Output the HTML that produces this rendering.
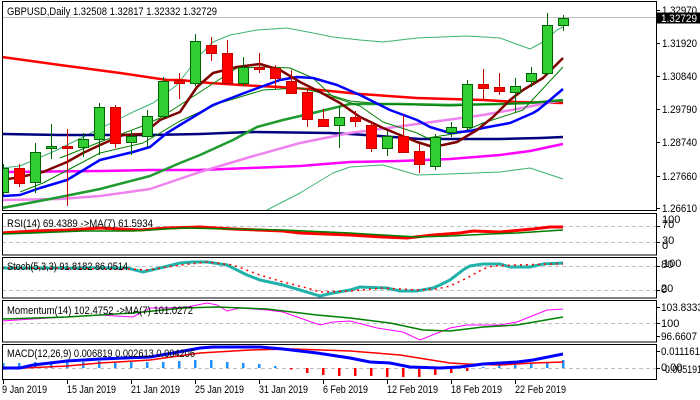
<!DOCTYPE html>
<html><head><meta charset="utf-8"><style>
html,body{margin:0;padding:0;background:#fff;}
svg{display:block;}
text{font-family:"Liberation Sans",sans-serif;font-size:11px;fill:#000;}
</style></head><body>
<svg width="700" height="400" viewBox="0 0 700 400" xmlns="http://www.w3.org/2000/svg">
<defs>
<clipPath id="cm"><rect x="3" y="2" width="653" height="208"/></clipPath>
<clipPath id="cr"><rect x="3" y="214" width="653" height="41"/></clipPath>
<clipPath id="cs"><rect x="3" y="258" width="653" height="40"/></clipPath>
<clipPath id="cmo"><rect x="3" y="301" width="653" height="41"/></clipPath>
<clipPath id="cma"><rect x="3" y="345" width="653" height="34"/></clipPath>
</defs>
<rect width="700" height="400" fill="#fff"/>

<!-- MAIN PANEL -->
<g clip-path="url(#cm)">
<line x1="2" y1="17.5" x2="657" y2="17.5" stroke="#c0c0c0" stroke-width="1"/>
<!-- indicator lines -->
<g fill="none" stroke-linejoin="round">
<polyline stroke="#3cb371" stroke-width="1" points="2,168 20,166 57,150 97,130 133,112 153,103 177,85 200,55 213,42 230,35 257,30 287,28 313,33 333,37 360,40 383,42 417,38 467,36 500,38 530,49 543,42 557,30 563,27"/>
<polyline stroke="#3cb371" stroke-width="1" points="260,214 267,210 300,193 333,173 350,167 383,165 417,175 450,174 500,172 530,168 563,179"/>
<polyline stroke="#ff0000" stroke-width="2.5" points="2,57 60,65 120,73 167,80 180,80 210,83 257,86 280,87 320,90 360,94 417,98 483,100 517,102 563,103"/>
<polyline stroke="#000080" stroke-width="2.5" points="2,134 60,135 150,135 200,134 250,132 330,133 350,134 380,136 420,139 500,139 540,138 563,137"/>
<polyline stroke="#ff00ff" stroke-width="2.5" points="2,172 100,171 150,170 200,170 250,168 300,166 350,162 400,161 450,159 500,155 530,151 563,144"/>
<polyline stroke="#ee82ee" stroke-width="2.5" points="2,200 60,199 100,196 150,189 200,172 250,157 300,143 350,133 417,124 483,115 517,109 563,100"/>
<polyline stroke="#1e9a2e" stroke-width="2.5" points="2,208 50,199 100,189 150,176 180,163 200,155 233,140 257,127 283,120 313,113 350,104 400,104 450,105 500,104 530,103 563,100"/>
<polyline stroke="#008000" stroke-width="1" points="20,192 43,183 83,162 100,153 143,143 160,133 180,121 220,103 263,90 300,88 330,95 350,101 383,104 450,106 500,104 563,101"/>
<polyline stroke="#008000" stroke-width="1" points="60,158 100,142 140,127 160,118 180,105 200,92 237,68 267,67 290,68 313,78 333,97 360,106 383,122 417,133 427,138 460,133 483,123 517,112 523,110 563,67"/>
<polyline stroke="#0000ff" stroke-width="2.5" points="2,196 20,195 40,188 67,180 100,160 133,152 150,147 167,133 180,125 213,105 247,92 280,80 297,77 313,78 337,85 360,95 390,110 417,120 430,127 450,133 470,131 483,128 510,123 533,113 538,110 550,100 563,89"/>
<polyline stroke="#800000" stroke-width="2.5" points="2,180 20,177 43,172 67,162 83,153 100,145 123,135 143,134 160,120 180,112 197,87 213,73 237,67 260,64 280,70 300,82 320,92 340,103 360,117 383,128 417,142 430,146 443,145 457,142 477,130 493,117 510,100 523,90 543,78 563,58"/>
</g>
<!-- candles -->
<g stroke-width="1">
<g stroke="#006400" fill="#32cd32">
<line x1="3.5" y1="164" x2="3.5" y2="195"/><rect x="-1.5" y="168.5" width="10" height="24"/>
<line x1="35.5" y1="143" x2="35.5" y2="193"/><rect x="30.5" y="152.5" width="10" height="30"/>
<line x1="51.5" y1="124" x2="51.5" y2="159"/><rect x="46.5" y="146.5" width="10" height="2"/>
<line x1="83.5" y1="133" x2="83.5" y2="157"/><rect x="78.5" y="139.5" width="10" height="8"/>
<line x1="99.5" y1="103" x2="99.5" y2="155"/><rect x="94.5" y="107.5" width="10" height="32"/>
<line x1="131.5" y1="131" x2="131.5" y2="155"/><rect x="126.5" y="136.5" width="10" height="6"/>
<line x1="147.5" y1="110" x2="147.5" y2="147"/><rect x="142.5" y="116.5" width="10" height="20"/>
<line x1="163.5" y1="77" x2="163.5" y2="119"/><rect x="158.5" y="81.5" width="10" height="35"/>
<line x1="195.5" y1="34" x2="195.5" y2="86"/><rect x="190.5" y="41.5" width="10" height="42"/>
<line x1="243.5" y1="57" x2="243.5" y2="86"/><rect x="238.5" y="67.5" width="10" height="16"/>
<line x1="339.5" y1="106" x2="339.5" y2="148"/><rect x="334.5" y="117.5" width="10" height="8"/>
<line x1="387.5" y1="131" x2="387.5" y2="156"/><rect x="382.5" y="136.5" width="10" height="12"/>
<line x1="435.5" y1="134" x2="435.5" y2="170"/><rect x="430.5" y="137.5" width="10" height="29"/>
<line x1="451.5" y1="122" x2="451.5" y2="137"/><rect x="446.5" y="127.5" width="10" height="5"/>
<line x1="467.5" y1="80" x2="467.5" y2="130"/><rect x="462.5" y="84.5" width="10" height="43"/>
<line x1="515.5" y1="78" x2="515.5" y2="112"/><rect x="510.5" y="86.5" width="10" height="6"/>
<line x1="531.5" y1="67" x2="531.5" y2="87"/><rect x="526.5" y="73.5" width="10" height="8"/>
<line x1="547.5" y1="13" x2="547.5" y2="75"/><rect x="542.5" y="25.5" width="10" height="48"/>
<line x1="563.5" y1="15" x2="563.5" y2="31"/><rect x="558.5" y="18.5" width="10" height="7"/>
</g>
<g stroke="#c80000" fill="#ff0000">
<line x1="19.5" y1="164" x2="19.5" y2="187"/><rect x="14.5" y="168.5" width="10" height="15"/>
<line x1="67.5" y1="129" x2="67.5" y2="206"/><rect x="62.5" y="146.5" width="10" height="2"/>
<line x1="115.5" y1="105" x2="115.5" y2="148"/><rect x="110.5" y="107.5" width="10" height="36"/>
<line x1="179.5" y1="73" x2="179.5" y2="99"/><rect x="174.5" y="80.5" width="10" height="3"/>
<line x1="211.5" y1="37" x2="211.5" y2="61"/><rect x="206.5" y="45.5" width="10" height="8"/>
<line x1="227.5" y1="40" x2="227.5" y2="84"/><rect x="222.5" y="53.5" width="10" height="30"/>
<line x1="259.5" y1="53" x2="259.5" y2="73"/><rect x="254.5" y="67.5" width="10" height="2"/>
<line x1="275.5" y1="65" x2="275.5" y2="89"/><rect x="270.5" y="68.5" width="10" height="10"/>
<line x1="291.5" y1="70" x2="291.5" y2="94"/><rect x="286.5" y="81.5" width="10" height="12"/>
<line x1="307.5" y1="88" x2="307.5" y2="127"/><rect x="302.5" y="92.5" width="10" height="27"/>
<line x1="323.5" y1="109" x2="323.5" y2="127"/><rect x="318.5" y="119.5" width="10" height="7"/>
<line x1="355.5" y1="111" x2="355.5" y2="127"/><rect x="350.5" y="117.5" width="10" height="4"/>
<line x1="371.5" y1="122" x2="371.5" y2="152"/><rect x="366.5" y="125.5" width="10" height="23"/>
<line x1="403.5" y1="115" x2="403.5" y2="152"/><rect x="398.5" y="136.5" width="10" height="16"/>
<line x1="419.5" y1="144" x2="419.5" y2="173"/><rect x="414.5" y="151.5" width="10" height="13"/>
<line x1="483.5" y1="69" x2="483.5" y2="100"/><rect x="478.5" y="84.5" width="10" height="4"/>
<line x1="499.5" y1="73" x2="499.5" y2="95"/><rect x="494.5" y="87.5" width="10" height="4"/>
</g>
</g>
</g>
<text x="7" y="15" textLength="210" lengthAdjust="spacingAndGlyphs">GBPUSD,Daily  1.32508 1.32817 1.32332 1.32729</text>

<!-- RSI -->
<g clip-path="url(#cr)" fill="none">
<line x1="2" y1="226.5" x2="657" y2="226.5" stroke="#c0c0c0" stroke-dasharray="4,3"/>
<line x1="2" y1="242.5" x2="657" y2="242.5" stroke="#c0c0c0" stroke-dasharray="4,3"/>
<polyline stroke="#ff0000" stroke-width="3" points="2,233 33,231 67,230 100,228 140,230 167,228 200,227 233,229 283,231 300,233 350,235 383,237 407,238 433,235 460,233 473,231 500,232 533,229 550,227 563,227"/>
<polyline stroke="#008000" stroke-width="1.5" points="2,234 33,233 83,231 133,231 183,228 233,229 283,230 350,233 383,235 417,237 450,236 490,234 517,233 563,230"/>
</g>
<text x="7" y="227" textLength="146" lengthAdjust="spacingAndGlyphs">RSI(14) 69.4389  -&gt;MA(7) 61.5934</text>

<!-- Stoch -->
<g clip-path="url(#cs)" fill="none">
<line x1="2" y1="266.5" x2="657" y2="266.5" stroke="#c0c0c0" stroke-dasharray="4,3"/>
<line x1="2" y1="290.5" x2="657" y2="290.5" stroke="#c0c0c0" stroke-dasharray="4,3"/>
<polyline stroke="#20b2aa" stroke-width="3" points="2,268 127,268 143,272 160,268 180,263 193,262 207,262 227,265 247,275 260,280 283,285 300,290 320,296 333,293 350,290 360,287 387,288 400,291 417,291 433,288 440,285 450,280 463,270 470,266 483,264 500,264 510,267 530,267 543,264 563,263"/>
<polyline stroke="#ff0000" stroke-width="1.5" stroke-dasharray="2,4" points="2,268 127,269 150,270 173,266 207,262 233,265 260,275 283,282 307,288 320,292 350,291 383,288 417,290 437,289 450,286 467,278 483,269 493,266 517,265 550,264 563,264"/>
</g>
<text x="7" y="270" textLength="121" lengthAdjust="spacingAndGlyphs">Stoch(5,3,3) 91.8182 86.0514</text>

<!-- Momentum -->
<g clip-path="url(#cmo)" fill="none">
<line x1="2" y1="323.5" x2="657" y2="323.5" stroke="#c0c0c0" stroke-dasharray="4,3"/>
<polyline stroke="#ff00ff" stroke-width="1" points="2,321 33,319 100,315 133,317 150,308 167,308 187,307 207,303 217,305 227,311 240,308 267,310 283,312 300,318 320,325 333,322 350,321 377,328 403,332 420,340 450,328 467,325 500,325 517,322 547,310 563,309"/>
<polyline stroke="#008000" stroke-width="1.5" points="2,319 67,317 133,313 183,308 217,307 267,309 317,315 350,318 390,323 423,330 450,331 483,327 517,325 563,317"/>
</g>
<text x="7" y="314" textLength="186" lengthAdjust="spacingAndGlyphs">Momentum(14) 102.4752  -&gt;MA(7) 101.0272</text>

<!-- MACD -->
<g clip-path="url(#cma)">
<line x1="2" y1="368.5" x2="657" y2="368.5" stroke="#c0c0c0" stroke-dasharray="4,3"/>
<g fill="#1e90ff">
<rect x="2" y="363" width="2.5" height="5"/><rect x="18" y="363" width="2.5" height="5"/><rect x="34" y="362" width="2.5" height="6"/><rect x="50" y="363" width="2.5" height="5"/><rect x="66" y="362" width="2.5" height="6"/><rect x="82" y="362" width="2.5" height="6"/><rect x="98" y="361" width="2.5" height="7"/><rect x="114" y="362" width="2.5" height="6"/><rect x="130" y="362" width="2.5" height="6"/><rect x="146" y="362" width="2.5" height="6"/><rect x="162" y="362" width="2.5" height="6"/><rect x="178" y="361" width="2.5" height="7"/><rect x="194" y="360" width="2.5" height="8"/><rect x="210" y="360" width="2.5" height="8"/><rect x="226" y="362" width="2.5" height="6"/><rect x="242" y="363" width="2.5" height="5"/><rect x="258" y="364" width="2.5" height="4"/><rect x="274" y="366" width="2.5" height="2"/>
<rect x="482" y="367" width="2.5" height="1"/><rect x="498" y="365" width="2.5" height="3"/><rect x="514" y="365" width="2.5" height="3"/><rect x="530" y="363" width="2.5" height="5"/><rect x="546" y="362" width="2.5" height="6"/><rect x="562" y="360" width="2.5" height="8"/>
</g>
<g fill="#ff0000">
<rect x="290" y="368" width="2.5" height="1.5"/><rect x="306" y="368" width="2.5" height="5"/><rect x="322" y="368" width="2.5" height="7"/><rect x="338" y="368" width="2.5" height="8"/><rect x="354" y="368" width="2.5" height="8"/><rect x="370" y="368" width="2.5" height="8"/><rect x="386" y="368" width="2.5" height="9"/><rect x="402" y="368" width="2.5" height="9"/><rect x="418" y="368" width="2.5" height="9"/><rect x="434" y="368" width="2.5" height="7"/><rect x="450" y="368" width="2.5" height="5"/><rect x="466" y="368" width="2.5" height="3"/>
</g>
<polyline fill="none" stroke="#ff0000" stroke-width="1.5" points="2,369 67,366 100,363 150,360 200,353 250,350 293,349 350,351 400,355 450,363 467,364 500,365 533,363 563,362"/>
<polyline fill="none" stroke="#0000ff" stroke-width="3" points="2,368 20,368 33,365 67,361 100,359 150,357 173,353 200,348 213,347 260,347 283,349 317,353 350,358 370,362 390,363 410,367 440,368 460,367 483,364 517,362 533,360 563,354"/>
</g>
<text x="7" y="357" textLength="188" lengthAdjust="spacingAndGlyphs">MACD(12,26,9) 0.006819 0.002613 0.004206</text>

<!-- panel borders -->
<g fill="none" stroke="#000" stroke-width="1">
<rect x="2.5" y="1.5" width="654" height="209"/>
<rect x="2.5" y="213.5" width="654" height="41.5"/>
<rect x="2.5" y="257.5" width="654" height="40.5"/>
<rect x="2.5" y="300.5" width="654" height="41.5"/>
<rect x="2.5" y="344.5" width="654" height="35"/>
</g>

<!-- right axis ticks -->
<g stroke="#000" stroke-width="1">
<line x1="657" y1="10.5" x2="660" y2="10.5"/><line x1="657" y1="43.5" x2="660" y2="43.5"/><line x1="657" y1="76.5" x2="660" y2="76.5"/><line x1="657" y1="109.5" x2="660" y2="109.5"/><line x1="657" y1="142.5" x2="660" y2="142.5"/><line x1="657" y1="176.5" x2="660" y2="176.5"/><line x1="657" y1="208.5" x2="660" y2="208.5"/>
<line x1="657" y1="226.5" x2="660" y2="226.5"/><line x1="657" y1="242.5" x2="660" y2="242.5"/>
<line x1="657" y1="266.5" x2="660" y2="266.5"/><line x1="657" y1="290.5" x2="660" y2="290.5"/>
<line x1="657" y1="307.5" x2="660" y2="307.5"/><line x1="657" y1="323.5" x2="660" y2="323.5"/><line x1="657" y1="336.5" x2="660" y2="336.5"/>
<line x1="657" y1="351.5" x2="660" y2="351.5"/><line x1="657" y1="368.5" x2="660" y2="368.5"/>
</g>

<!-- right axis labels -->
<text x="662" y="14" textLength="35" lengthAdjust="spacingAndGlyphs">1.32970</text>
<text x="662" y="47" textLength="35" lengthAdjust="spacingAndGlyphs">1.31920</text>
<text x="662" y="80" textLength="35" lengthAdjust="spacingAndGlyphs">1.30840</text>
<text x="662" y="113" textLength="35" lengthAdjust="spacingAndGlyphs">1.29790</text>
<text x="662" y="146" textLength="35" lengthAdjust="spacingAndGlyphs">1.28740</text>
<text x="662" y="180" textLength="35" lengthAdjust="spacingAndGlyphs">1.27660</text>
<text x="662" y="212" textLength="35" lengthAdjust="spacingAndGlyphs">1.26610</text>
<rect x="657" y="12.5" width="43" height="11" fill="#000"/>
<text x="661" y="22" fill="#fff" style="fill:#fff" textLength="36" lengthAdjust="spacingAndGlyphs">1.32729</text>

<text x="662" y="223">100</text>
<text x="662" y="228">70</text>
<text x="662" y="244">30</text>
<text x="662" y="249">0</text>
<text x="663" y="267">100</text>
<text x="661" y="268">80</text>
<text x="661" y="292">20</text>
<text x="661" y="293">0</text>
<text x="661" y="311" textLength="42" lengthAdjust="spacingAndGlyphs">103.8333</text>
<text x="661" y="327">100</text>
<text x="661" y="340" textLength="36" lengthAdjust="spacingAndGlyphs">96.6607</text>
<text x="661" y="355" textLength="39" lengthAdjust="spacingAndGlyphs">0.011161</text>
<text x="661" y="371">0.00</text>
<text x="662" y="373" textLength="40" lengthAdjust="spacingAndGlyphs">-0.005191</text>

<!-- x axis -->
<g stroke="#000" stroke-width="1">
<line x1="3.5" y1="380" x2="3.5" y2="384"/><line x1="67.5" y1="380" x2="67.5" y2="384"/><line x1="131.5" y1="380" x2="131.5" y2="384"/><line x1="195.5" y1="380" x2="195.5" y2="384"/><line x1="259.5" y1="380" x2="259.5" y2="384"/><line x1="323.5" y1="380" x2="323.5" y2="384"/><line x1="387.5" y1="380" x2="387.5" y2="384"/><line x1="451.5" y1="380" x2="451.5" y2="384"/><line x1="515.5" y1="380" x2="515.5" y2="384"/>
</g>
<text x="2" y="393" textLength="45" lengthAdjust="spacingAndGlyphs">9 Jan 2019</text>
<text x="67" y="393" textLength="49" lengthAdjust="spacingAndGlyphs">15 Jan 2019</text>
<text x="131" y="393" textLength="49" lengthAdjust="spacingAndGlyphs">21 Jan 2019</text>
<text x="195" y="393" textLength="49" lengthAdjust="spacingAndGlyphs">25 Jan 2019</text>
<text x="259" y="393" textLength="49" lengthAdjust="spacingAndGlyphs">31 Jan 2019</text>
<text x="323" y="393" textLength="45" lengthAdjust="spacingAndGlyphs">6 Feb 2019</text>
<text x="387" y="393" textLength="51" lengthAdjust="spacingAndGlyphs">12 Feb 2019</text>
<text x="451" y="393" textLength="51" lengthAdjust="spacingAndGlyphs">18 Feb 2019</text>
<text x="515" y="393" textLength="51" lengthAdjust="spacingAndGlyphs">22 Feb 2019</text>
</svg>
</body></html>
